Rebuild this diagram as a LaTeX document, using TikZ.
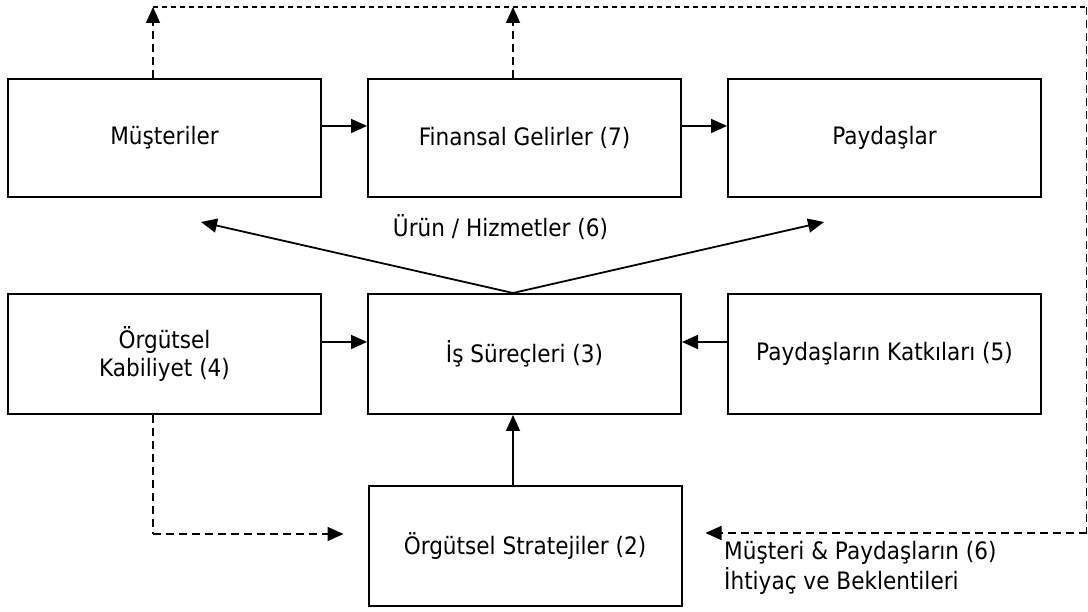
\documentclass[tikz,border=0pt]{standalone}
\usepackage{fontspec}
\setmainfont{DejaVu Sans}[FakeStretch=0.9]
\usetikzlibrary{arrows.meta}
\begin{document}
\begin{tikzpicture}[x=1pt,y=-1pt,
  box/.style={draw,line width=2pt,minimum width=313pt,minimum height=118pt,inner sep=0pt,font=\fontsize{24}{28}\selectfont,align=center},
  arr/.style={line width=1.8pt,-{Triangle[length=16pt,width=14pt]}},
  darr/.style={line width=1.8pt,dash pattern=on 8pt off 5pt,-{Triangle[length=16pt,width=14pt]}},
  dline/.style={line width=1.8pt,dash pattern=on 8pt off 5pt},
  tline/.style={line width=1.8pt,dash pattern=on 5pt off 4pt},
  lbl/.style={font=\fontsize{24}{30}\selectfont,inner sep=0pt}]
\useasboundingbox[fill=white] (0,0) rectangle (1088,612);
\node[box] (mus) at (164.5,138) {Müşteriler};
\node[box] (fin) at (524.5,138) {Finansal Gelirler (7)};
\node[box] (pay) at (884.5,138) {Paydaşlar};
\node[box,minimum height=120pt] (org) at (164.5,354) {Örgütsel\\Kabiliyet (4)};
\node[box,minimum height=120pt] (is) at (524.5,354) {İş Süreçleri (3)};
\node[box,minimum height=120pt] (pk) at (884.5,354) {Paydaşların Katkıları (5)};
\node[box,minimum height=120pt] (str) at (525,546) {Örgütsel Stratejiler (2)};
\node[lbl] (urun) at (500.5,227) {Ürün / Hizmetler (6)};
\node[lbl,align=left,anchor=north west] (mp) at (724,541) {Müşteri \& Paydaşların (6)\\İhtiyaç ve Beklentileri};
\coordinate (tl) at (153,7);
\coordinate (tm) at (513,7);
\coordinate (tr) at (1086.5,7);
\coordinate (br) at (1086.5,533);
\coordinate (bl) at (153,534);
\coordinate (ul) at (201,222);
\coordinate (ur) at (824,222);
% row arrows
\draw[arr] ([yshift=12pt]mus.east) -- ([yshift=12pt]fin.west);
\draw[arr] ([yshift=12pt]fin.east) -- ([yshift=12pt]pay.west);
\draw[arr] ([yshift=12pt]org.east) -- ([yshift=12pt]is.west);
\draw[arr] ([yshift=12pt]pk.west) -- ([yshift=12pt]is.east);
\draw[arr] ([xshift=-12pt]str.north) -- ([xshift=-11.5pt]is.south);
% product arrows
\draw[arr] ([xshift=-11.5pt]is.north) -- (ul);
\draw[arr] ([xshift=-11.5pt]is.north) -- (ur);
% dashed feedback
\draw[darr] ([xshift=-11.5pt]mus.north) -- (tl);
\draw[darr] ([xshift=-11.5pt]fin.north) -- (tm);
\draw[tline] (tl) -- (tr);
\draw[dline] (tr) -- (br);
\draw[darr] (br) -- ([xshift=23pt]str.east |- br);
\draw[dline] ([xshift=-11.5pt]org.south) -- (bl);
\draw[darr] (bl) -- ([xshift=-24pt]str.west |- bl);
\end{tikzpicture}
\end{document}
